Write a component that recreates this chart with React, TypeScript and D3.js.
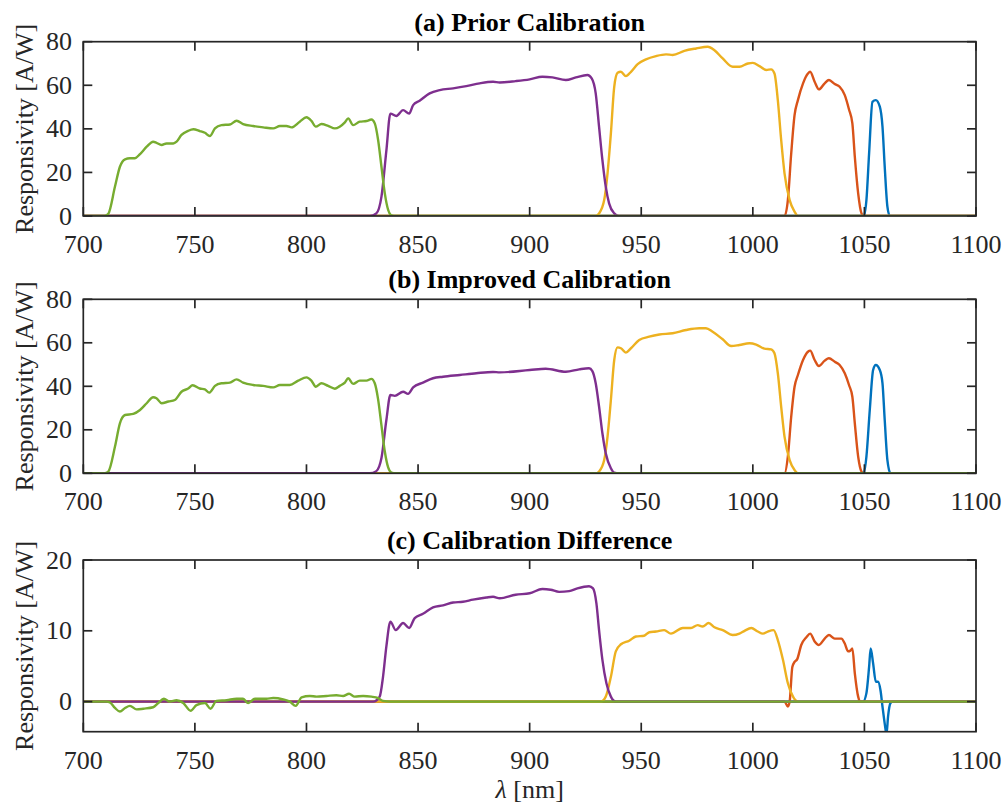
import * as d3 from "d3";

// wavelength [nm], responsivity [A/W]
const priorBlue = [[700,0],[1049.7,0],[1050.9,7.3],[1052.1,28.7],[1053.6,52.4],[1055.1,53.2],[1056.9,50.2],[1058.1,41],[1059.1,22.6],[1060.3,4.3],[1061.4,0],[1100,0]];
const priorOrange = [[700,0],[1014.2,0],[1015.7,7.3],[1017.2,28.7],[1018.7,46.3],[1020.2,53.2],[1022.5,60.9],[1024.7,65.4],[1025.7,66.2],[1027.7,61.6],[1029.6,58.1],[1032.2,60.9],[1034.1,62.4],[1036.7,60.6],[1038.9,59.3],[1041.2,55.5],[1043.1,48.9],[1044.6,42.5],[1045.7,27.2],[1047.2,10.4],[1048.7,1.2],[1049.7,0],[1100,0]];
const priorYellow = [[700,0],[929.6,0],[931.1,1.2],[933.4,7.3],[934.9,19.6],[936.4,37.9],[937.9,59.3],[939.4,65.7],[940.9,66.2],[943.1,64.2],[945.4,66.2],[948.4,69.7],[952.1,71.9],[956.6,73.4],[961.1,74.2],[964.1,73.9],[969.3,75.8],[974.6,76.9],[979.8,77.7],[982.8,76.1],[986.5,72.3],[991,68.5],[994,68.5],[997.8,70],[1000,70.3],[1003,68.8],[1006,67],[1008.2,67.3],[1009.7,65.4],[1011.2,53.2],[1012.7,34.9],[1014.2,19.6],[1016.5,7.3],[1018.7,2],[1020.2,0],[1100,0]];
const priorPurple = [[700,0],[828.4,0],[831.3,1.2],[833.6,8.9],[835.8,30],[837.6,47],[840.3,45.9],[843.3,48.6],[846,47],[847.8,50.9],[850.7,52.9],[855.2,56.3],[859.7,57.8],[865.7,58.6],[871.6,59.6],[877.6,60.9],[883.6,61.6],[886.6,61.3],[893.7,61.9],[900,62.7],[905.7,63.9],[910.2,63.6],[916.2,62.4],[920.7,63.6],[925.9,64.7],[927.8,63.2],[929.6,56.3],[931.1,41],[932.6,25.7],[934.1,13.5],[935.6,5.8],[937.9,1.2],[940,0],[1100,0]];
const priorGreen = [[700,0],[709.5,0],[711.2,1],[714.2,13.5],[716.4,22.6],[718.7,26],[720.9,26.5],[723.1,26.5],[725.4,28.4],[728.4,31.8],[731.3,34.1],[732.8,33.6],[735.1,32.6],[737.3,33.3],[740.3,33.3],[741.8,34.1],[744,37.2],[747,39.1],[749.3,39.8],[752.2,39],[754.5,38.2],[756.7,36.7],[759,40.2],[761.9,41.7],[765.7,42],[768.7,43.7],[771.6,42.2],[776.1,41.3],[780.6,40.7],[785.1,40.2],[788.1,41.3],[791,41.3],[793.3,40.7],[797,43.3],[800,45.3],[802.2,43.7],[804.2,41],[806.7,42.2],[809.7,41.4],[812.7,40.2],[814.9,41],[817.2,43],[818.7,44.8],[820.9,41.7],[823.9,43.3],[826.9,43.6],[829.1,44.3],[830.6,42.5],[832.1,34.9],[833.6,22.6],[835.1,10.4],[836.6,2.8],[838.1,0.3],[840,0],[1100,0]];

const improvedBlue = [[700,0],[1049.7,0],[1050.9,7.7],[1052.4,29.1],[1053.9,47.5],[1055.1,49.8],[1056.9,47.5],[1058.1,41.4],[1059.1,24.5],[1060.3,6.1],[1061.7,0],[1100,0]];
const improvedOrange = [[700,0],[1014.2,0],[1015.7,7.7],[1017.2,26],[1018.7,39.8],[1020.2,45.2],[1022.5,52.1],[1024.7,55.9],[1025.7,56.4],[1027.7,52.1],[1029.6,49.3],[1032.2,51.8],[1034.1,52.9],[1036.7,51.3],[1038.9,49.8],[1041.2,46],[1043.1,40.6],[1044.6,35.2],[1045.7,23],[1047.2,7.7],[1048.7,0.8],[1049.7,0],[1100,0]];
const improvedYellow = [[700,0],[930,0],[931.1,0.8],[933.4,6.1],[934.9,16.9],[936.4,33.7],[937.9,52.1],[939.4,57.9],[940.9,57.5],[943.1,55.5],[945.4,57.5],[949.1,61.3],[953.6,62.8],[958.1,63.8],[964.1,64.4],[970.1,65.9],[976,66.7],[979,66.7],[982,65.1],[986.5,61.6],[990.3,58.5],[994,59],[998.5,59.8],[1001.5,59.2],[1005.2,57.3],[1008.2,57],[1009.7,55.2],[1011.2,46],[1012.7,30.7],[1014.2,16.9],[1016.5,6.1],[1018.7,1.5],[1020.2,0],[1100,0]];
const improvedPurple = [[700,0],[828.4,0],[831.3,1],[833.6,7],[835.8,24.5],[837.6,36],[839.6,35.6],[843.3,37.5],[845.5,36.5],[847.8,39.5],[852.2,41.7],[856.7,43.7],[861.2,44.4],[868.7,45.2],[876.1,46],[883.6,46.6],[886.6,46.4],[900,47.5],[907.2,48.1],[916.2,46.7],[922.2,47.8],[926.6,48.3],[928.1,47],[929.6,41.4],[931.1,30.7],[932.6,18.4],[934.1,9.2],[936.4,2.3],[937.9,0.3],[940,0],[1100,0]];
const improvedGreen = [[700,0],[709.5,0],[711.2,0.8],[714.2,12.3],[716.4,23],[718.7,26.8],[722.4,27.3],[725.4,29.1],[728.4,32.2],[731.3,35],[732.8,34.5],[735.1,32.2],[738.1,33],[741,33.7],[744,37.5],[747,39],[749,40.5],[752.2,39],[754.5,38.6],[756.4,37.1],[759,40.2],[761.9,41.4],[765.7,41.7],[768.7,43.2],[771.6,41.7],[776.1,40.6],[780.6,40.2],[785.1,39.5],[788.1,40.6],[792.5,40.6],[796.3,42.6],[800,44.1],[802.2,42.6],[804.2,39.8],[806.7,41.4],[809.7,40.2],[812.7,38.9],[814.9,40.2],[817.2,41.7],[818.7,43.7],[820.9,41.1],[823.9,42.6],[826.9,42.6],[829.1,43.4],[830.6,41.4],[832.1,34],[833.6,22],[835.1,10],[836.6,2.7],[838.1,0.3],[840,0],[1100,0]];

const diffBlue = [[700,0],[1049.4,0],[1050.9,1.2],[1052.1,4.9],[1052.8,7.5],[1053.9,5.4],[1055.1,2.8],[1056.1,2.8],[1057.2,1.6],[1058.1,-0.7],[1059.1,-3.1],[1059.9,-4.6],[1060.6,-2.1],[1061.7,-0.2],[1062.6,0],[1100,0]];
const diffOrange = [[700,0],[1014.2,0],[1015.7,-0.7],[1016.5,0],[1017.7,4.9],[1018.7,5.6],[1019.9,6],[1021.7,8],[1024,9.1],[1025.7,9.6],[1027.7,8.5],[1029.6,8],[1032.2,8.9],[1034.1,9.4],[1036.7,8.9],[1039.7,8.9],[1041.2,8.2],[1042.7,7.1],[1043.7,7.2],[1044.6,7.5],[1045.7,4],[1047.2,0.7],[1048.2,0],[1100,0]];
const diffYellow = [[700,0],[931.9,0],[934.1,0.7],[936.4,3.5],[938.6,7.1],[940.9,8.1],[944.6,8.6],[947.6,9.2],[951.3,9.3],[953.6,9.8],[956.6,9.9],[960.3,10.1],[963.3,9.6],[968.6,10.4],[972.3,10.4],[975.3,10.8],[977.5,10.6],[980.2,11.1],[982.8,10.5],[986.5,10.1],[991,9.4],[994,9.6],[996.3,10],[999.3,10.4],[1002.2,9.9],[1004.5,9.6],[1006.7,9.9],[1009.3,10.1],[1011.2,8.7],[1013.5,5.9],[1015.7,2.6],[1018,0.7],[1020.2,0],[1100,0]];
const diffPurple = [[700,0],[829.9,0],[832.8,0.7],[834.3,3.5],[835.8,7.8],[837.6,11.3],[840,10.1],[843.3,11.1],[846,10.4],[848.5,11.8],[852.2,12.4],[856.7,13.3],[861.2,13.6],[865.7,14],[870.1,14.1],[874.6,14.4],[880.6,14.7],[883.6,14.8],[886.6,14.6],[893.7,15.1],[900,15.3],[905.7,15.9],[909.4,15.8],[913.2,15.5],[917.7,15.6],[921.4,16],[926.6,16.3],[928.4,16],[929.9,13.9],[931.1,10.1],[932.6,5.9],[934.4,2.6],[936.4,0.7],[938.6,0],[1100,0]];
const diffGreen = [[700,0],[710.4,0],[711.9,-0.1],[714.2,-0.9],[716.4,-1.4],[718.7,-0.9],[720.9,-0.6],[723.9,-1.1],[726.9,-1],[731.3,-0.8],[733.6,-0.2],[736.1,0.4],[738.8,0],[741.8,0.2],[744.8,-0.2],[748.1,-1.3],[750.7,-0.5],[754.5,-0.2],[757,-1],[759.7,0.1],[764.2,0.2],[768.7,0.4],[771.6,0.4],[773.9,-0.2],[776.9,0.4],[782.1,0.4],[785.1,0.5],[789.6,0.3],[792.5,0],[795.2,-0.6],[797.8,0.6],[801.5,0.8],[804.5,0.7],[809,0.8],[813.4,0.9],[816.4,0.8],[819.1,1.1],[821.6,0.7],[825.4,0.8],[829.1,0.7],[832.1,0.5],[834.3,0.1],[837.6,0],[1100,0]];

const xTicks = [700, 750, 800, 850, 900, 950, 1000, 1050, 1100];
const respTicks = [0, 20, 40, 60, 80];
const diffTicks = [0, 10, 20];
const colors = ["#0072BD", "#D95319", "#EDB120", "#7E2F8E", "#77AC30"];

const panels = [
  { title: "(a) Prior Calibration", top: 41.7, bottom: 216, domain: [0, 80], ticks: respTicks,
    series: [priorBlue, priorOrange, priorYellow, priorPurple, priorGreen] },
  { title: "(b) Improved Calibration", top: 299.3, bottom: 473.3, domain: [0, 80], ticks: respTicks,
    series: [improvedBlue, improvedOrange, improvedYellow, improvedPurple, improvedGreen] },
  { title: "(c) Calibration Difference", top: 560, bottom: 731.7, domain: [-4.25, 20], ticks: diffTicks,
    series: [diffBlue, diffOrange, diffYellow, diffPurple, diffGreen] },
];

const left = 83.3;
const right = 976;
const axisColor = "#262626";
const font = "Liberation Serif, Times New Roman, Times, serif";
const tickLen = 9;

const x = d3.scaleLinear().domain([700, 1100]).range([left, right]);

function Panel({ p, i }) {
  const y = d3.scaleLinear().domain(p.domain).range([p.bottom, p.top]);
  const line = d3
    .line()
    .x((d) => x(d[0]))
    .y((d) => y(d[1]))
    .curve(d3.curveMonotoneX);
  const clipId = `clip-${i}`;
  return (
    <g>
      <defs>
        <clipPath id={clipId}>
          <rect x={left} y={p.top} width={right - left} height={p.bottom - p.top} />
        </clipPath>
      </defs>
      <g clipPath={`url(#${clipId})`}>
        {p.series.map((s, k) => (
          <path key={k} d={line(s)} fill="none" stroke={colors[k]} strokeWidth={2.4} strokeLinejoin="round" />
        ))}
      </g>
      <rect x={left} y={p.top} width={right - left} height={p.bottom - p.top}
        fill="none" stroke={axisColor} strokeWidth={1.7} />
      {xTicks.map((t) => (
        <g key={t}>
          <line x1={x(t)} x2={x(t)} y1={p.bottom} y2={p.bottom - tickLen} stroke={axisColor} strokeWidth={1.7} />
          <line x1={x(t)} x2={x(t)} y1={p.top} y2={p.top + tickLen} stroke={axisColor} strokeWidth={1.7} />
          <text x={x(t)} y={p.bottom + 37} textAnchor="middle" fontSize={26} fill={axisColor}>{t}</text>
        </g>
      ))}
      {p.ticks.map((t) => (
        <g key={t}>
          <line x1={left} x2={left + tickLen} y1={y(t)} y2={y(t)} stroke={axisColor} strokeWidth={1.7} />
          <line x1={right} x2={right - tickLen} y1={y(t)} y2={y(t)} stroke={axisColor} strokeWidth={1.7} />
          <text x={72} y={y(t) + 8.6} textAnchor="end" fontSize={26} fill={axisColor}>{t}</text>
        </g>
      ))}
      <text x={(left + right) / 2} y={p.top - 11} textAnchor="middle" fontSize={26} fontWeight="bold" fill="#000">
        {p.title}
      </text>
      <text transform={`translate(32.5,${(p.top + p.bottom) / 2}) rotate(-90)`} textAnchor="middle"
        fontSize={26} fill={axisColor}>
        Responsivity [A/W]
      </text>
    </g>
  );
}

export default function App() {
  return (
    <svg width={1005} height={807} style={{ position: "absolute", left: 0, top: 0, background: "#fff", fontFamily: font }}>
      {panels.map((p, i) => (
        <Panel key={i} p={p} i={i} />
      ))}
      <text x={(left + right) / 2} y={798} textAnchor="middle" fontSize={26} fill={axisColor}>
        <tspan fontStyle="italic">λ</tspan> [nm]
      </text>
    </svg>
  );
}
